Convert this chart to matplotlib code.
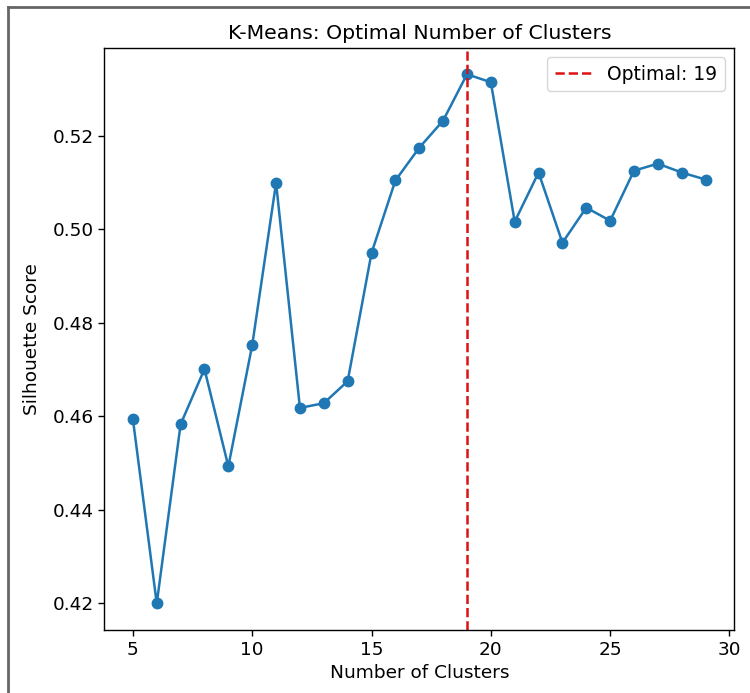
import matplotlib
matplotlib.use("Agg")
import matplotlib.pyplot as plt

clusters = list(range(5, 30))
scores = [0.4594, 0.4200, 0.4583, 0.4701, 0.4493, 0.4752, 0.5099, 0.4618,
          0.4628, 0.4675, 0.4949, 0.5104, 0.5174, 0.5232, 0.5331, 0.5314,
          0.5016, 0.5121, 0.4971, 0.5046, 0.5018, 0.5125, 0.5140, 0.5121,
          0.5106]
optimal_k = 19

fig = plt.figure(figsize=(7.5, 6.93), dpi=100)
ax = fig.add_axes([0.139, 0.091, 0.840, 0.840])
ax.plot(clusters, scores, marker='o', color='#1f77b4', linewidth=1.8, markersize=7.5)
ax.axvline(optimal_k, color='#dd1111', linestyle='--', linewidth=1.8,
           label=f'Optimal: {optimal_k}')
ax.set_title('K-Means: Optimal Number of Clusters', fontsize=14.7)
ax.set_xlabel('Number of Clusters', fontsize=13.3)
ax.set_ylabel('Silhouette Score', fontsize=13.3, labelpad=8)
ax.tick_params(labelsize=13.3, length=4.2, width=1.0)
for s in ax.spines.values():
    s.set_linewidth(1.0)
ax.legend(fontsize=13.5, loc='upper right')

# screenshot frame (left and top edges)
fig.add_artist(plt.Line2D([8/750, 8/750], [0, 1 - 7/693], transform=fig.transFigure,
                          color='#666666', linewidth=2))
fig.add_artist(plt.Line2D([8/750, 1], [1 - 7/693, 1 - 7/693], transform=fig.transFigure,
                          color='#666666', linewidth=2))

fig.savefig('out.png', dpi=100)
